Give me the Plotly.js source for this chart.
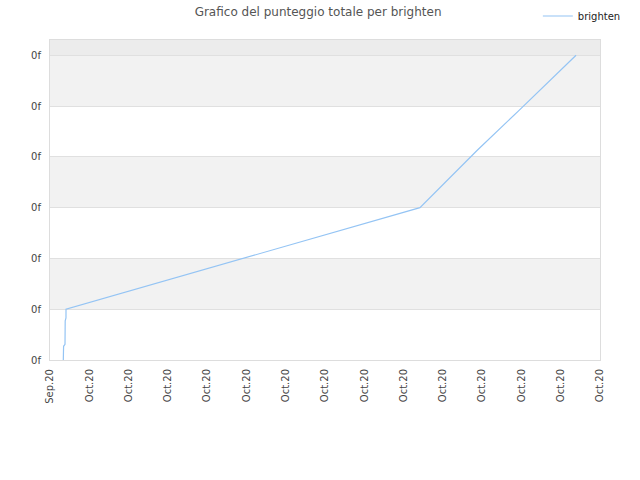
<!DOCTYPE html>
<html>
<head>
<meta charset="utf-8">
<script src="https://cdn.plot.ly/plotly-3.0.1.min.js"></script>
<style>
  body { margin: 0; background: #fff; }
  #chart { width: 640px; height: 480px; }
</style>
</head>
<body>
<div id="chart"></div>
<script>
// punteggio totale nel tempo
var dates = [
    "2020-09-30 08:08", "2020-09-30 08:18", "2020-09-30 09:10",
    "2020-09-30 09:17", "2020-09-30 09:46", "2020-09-30 09:47",
    "2020-10-09 10:00", "2020-10-09 21:48", "2020-10-10 21:01",
    "2020-10-11 22:05", "2020-10-12 21:36", "2020-10-13 09:22"
];
var scores = [0, 0.27, 0.31, 0.77, 0.83, 1.0, 3.0, 3.38, 4.13, 4.9, 5.64, 6.0];

var yTicks = [0, 1, 2, 3, 4, 5, 6];
var yLabels = ["0f", "0f", "0f", "0f", "0f", "0f", "0f"];

var playerName = "brighten";

// fasce alternate dello sfondo
var bands = [];
for (var i = 0; i < 6; i++) {
    if (i % 2 == 1) {
        bands.push({type: 'rect', xref: 'paper', yref: 'y', x0: 0, x1: 1,
            y0: yTicks[i], y1: yTicks[i + 1], fillcolor: '#f2f2f2',
            line: {width: 0}, layer: 'below'});
    }
}
bands.push({type: 'rect', xref: 'paper', yref: 'paper', x0: 0, x1: 1,
    y0: 6 / 6.3, y1: 1, fillcolor: '#ececec', line: {width: 0}, layer: 'below'});

var data = [{
    x: dates,
    y: scores,
    type: 'scatter',
    mode: 'lines',
    name: playerName,
    line: {color: '#94c4f4', width: 1.2}
}];

var layout = {
    width: 640,
    height: 480,
    margin: {l: 50, r: 40, t: 40, b: 120, autoexpand: false},
    paper_bgcolor: '#fff',
    plot_bgcolor: '#fff',
    font: {family: 'DejaVu Sans, Verdana, sans-serif', size: 10, color: '#444'},
    title: {
        text: 'Grafico del punteggio totale per ' + playerName,
        font: {size: 12, color: '#555'},
        x: 0.497, xanchor: 'center', y: 0.975, yanchor: 'middle'
    },
    showlegend: true,
    legend: {
        x: 0.887, xanchor: 'left', y: 1.075, yanchor: 'middle',
        bgcolor: 'rgba(0,0,0,0)', font: {size: 10, color: '#222'}
    },
    shapes: bands,
    xaxis: {
        type: 'date',
        range: ['2020-09-30', '2020-10-14'],
        dtick: 86400000,
        tick0: '2020-09-30',
        tickformat: '%b.%y',
        tickangle: -90,
        showgrid: false,
        zeroline: false,
        showline: true,
        mirror: true,
        linecolor: '#dddddd',
        ticks: '',
        ticklabelstandoff: 4,
        tickfont: {size: 10, color: '#444'}
    },
    yaxis: {
        range: [0, 6.3],
        tickvals: yTicks,
        ticktext: yLabels,
        showgrid: true,
        gridcolor: '#e0e0e0',
        zeroline: false,
        showline: true,
        mirror: true,
        linecolor: '#dddddd',
        ticks: '',
        ticklabelstandoff: 6,
        tickfont: {size: 10, color: '#444'}
    }
};

Plotly.newPlot('chart', data, layout, {displayModeBar: false});
</script>
</body>
</html>
